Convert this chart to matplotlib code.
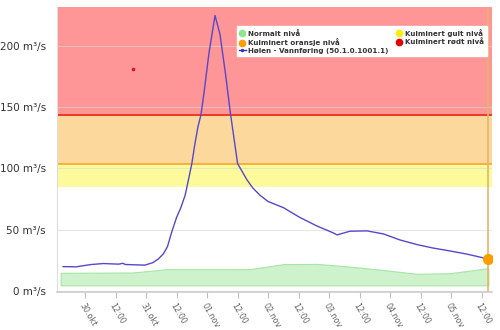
import matplotlib
matplotlib.use("Agg")
import matplotlib.pyplot as plt
import numpy as np
from matplotlib.lines import Line2D

# time in days from 30.okt 00:00
flow_days = [-0.36, -0.15, 0.10, 0.30, 0.55, 0.62, 0.66, 0.98, 1.11, 1.20, 1.28, 1.35,
             1.42, 1.50, 1.57, 1.64, 1.70, 1.75, 1.80, 1.85, 1.90, 1.95, 2.03, 2.13,
             2.21, 2.30, 2.38, 2.50, 2.65, 2.75, 2.87, 3.00, 3.25, 3.52, 3.80, 4.07,
             4.13, 4.34, 4.62, 4.89, 5.16, 5.44, 5.70, 5.98, 6.26, 6.61]
flow_vals = [19.8, 19.6, 21.5, 22.3, 21.8, 22.5, 21.5, 21.0, 23, 26, 30, 36,
             48, 60, 68, 78, 92, 104, 120, 134, 144, 162, 194, 225,
             210, 178, 146, 104, 91, 84, 78, 73, 68, 60, 53, 47.3,
             45.7, 48.7, 49, 46.5, 41.6, 37.8, 35, 32.6, 30, 26]

normal_days = [-0.40, 0.79, 1.34, 2.70, 3.25, 3.80, 4.34, 4.89, 5.44, 5.98, 6.61]
normal_high = [14.7, 15.0, 17.7, 17.7, 21.8, 22.0, 19.8, 17.0, 13.9, 14.4, 18.5]
normal_low = 4.5

yellow_lvl = 85
orange_lvl = 104
red_lvl = 144
y_top = 232

last_day, last_val = 6.61, 26
stray_day, stray_val = 0.79, 181

tick_pos = np.arange(0, 7, 0.5)
tick_txt = ["30.okt", "12:00", "31.okt", "12:00", "01.nov", "12:00", "02.nov",
            "12:00", "03.nov", "12:00", "04.nov", "12:00", "05.nov", "12:00"]
ytick_pos = [0, 50, 100, 150, 200]

fig = plt.figure(figsize=(5, 3.3), dpi=100)
ax = fig.add_axes([0.114, 0.115, 0.87, 0.864])

# warning bands
ax.axhspan(yellow_lvl, orange_lvl, color="#fdfa9c", lw=0, zorder=0)
ax.axhspan(orange_lvl, red_lvl, color="#fcd89c", lw=0, zorder=0)
ax.axhspan(red_lvl, y_top, color="#fe9596", lw=0, zorder=0)
ax.axhline(orange_lvl, color="#f5a530", lw=1.2, zorder=1)
ax.axhline(red_lvl, color="#ea3a26", lw=1.4, zorder=1)

for y in ytick_pos:
    ax.axhline(y, color="#d8d8d8", lw=0.8, alpha=0.6, zorder=1)

ax.fill_between(normal_days, normal_low, normal_high, color="#cdf2cc",
                edgecolor="#a9e3a7", lw=0.8, zorder=2)
ax.plot(flow_days, flow_vals, color="#5548cc", lw=1.0, zorder=3)
ax.plot([stray_day], [stray_val], "o", color="#e01010", ms=1.5, zorder=3)

ax.axvline(last_day, color="#e6b56a", lw=1.2, zorder=2)
ax.plot([last_day], [last_val], "o", color="#ff9d00", ms=7, zorder=4)

ax.set_xlim(-0.46, 6.67)
ax.set_ylim(-1, y_top)
ax.set_xticks(tick_pos)
ax.set_xticklabels(tick_txt, rotation=-60, ha="left", va="top",
                   rotation_mode="anchor", fontsize=5.8, color="#666666")
ax.set_yticks(ytick_pos)
ax.set_yticklabels([f"{v} m³/s" for v in ytick_pos], fontsize=7.5, color="#333333")
ax.tick_params(axis="y", length=0, pad=8)
ax.tick_params(axis="x", length=4, color="#c0c0c0", pad=3)

for s in ["top", "right"]:
    ax.spines[s].set_visible(False)
ax.spines["left"].set_color("#dddddd")
ax.spines["bottom"].set_color("#cccccc")
ax.spines["bottom"].set_linewidth(1.2)

handles = [
    Line2D([], [], ls="", marker="o", color="#90e68f", ms=4.5),
    Line2D([], [], ls="", marker="o", color="#ff9d00", ms=4.5),
    Line2D([], [], color="#3333cc", lw=1, marker="o", ms=1.5),
    Line2D([], [], ls="", marker="o", color="#ffee00", ms=4.5),
    Line2D([], [], ls="", marker="o", color="#e60000", ms=4.5),
]
labels = ["Normalt nivå", "Kulminert oransje nivå", "Hølen - Vannføring (50.1.0.1001.1)",
          "Kulminert gult nivå", "Kulminert rødt nivå"]
leg = ax.legend(handles, labels, ncol=2, loc="upper left", bbox_to_anchor=(0.405, 0.945),
                fontsize=5.1, frameon=True, fancybox=False, framealpha=1,
                edgecolor="white", handlelength=0.9, handletextpad=0.4,
                labelspacing=0.22, columnspacing=1.0, borderpad=0.35)
for t in leg.get_texts():
    t.set_color("#333333")
    t.set_fontweight("bold")

fig.savefig("out.png", dpi=100)
